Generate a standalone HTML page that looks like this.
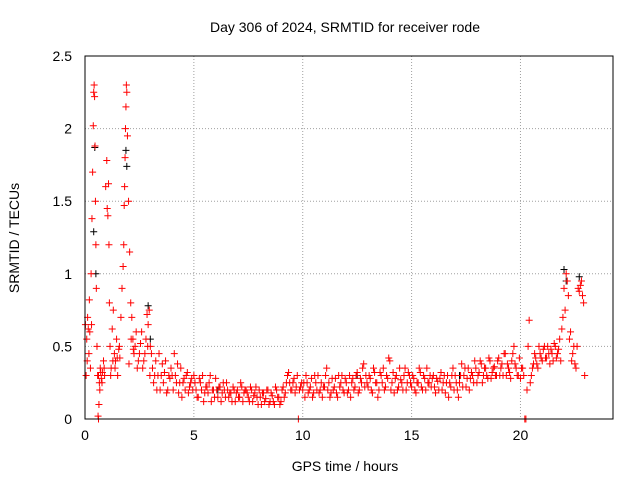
<!DOCTYPE html>
<html><head><meta charset="utf-8"><style>
body{margin:0;background:#fff;}
svg{display:block;font-family:"Liberation Sans",sans-serif;}
</style></head><body>
<svg id="chart" width="640" height="480">
<text x="345" y="32" text-anchor="middle" font-size="14">Day 306 of 2024, SRMTID for receiver rode</text>
<text x="345" y="471" text-anchor="middle" font-size="14">GPS time / hours</text>
<text transform="translate(19,238) rotate(-90)" text-anchor="middle" font-size="14">SRMTID / TECUs</text>
<g id="grid"></g><g id="ticks"></g><g id="black"></g><g id="red"></g>
<rect x="85" y="56" width="528" height="363" fill="none" stroke="#000"/>
</svg>
<script>
const xTicks=[0,5,10,15,20];
const yTicks=[0,0.5,1,1.5,2,2.5];
const yTickLabels=["0","0.5","1","1.5","2","2.5"];
// early segment (0-3 h): explicit times and values
const redTA=[0.02,0.05,0.08,0.1,0.12,0.15,0.18,0.2,0.22,0.25,
0.28,0.3,0.32,0.35,0.38,0.4,0.42,0.44,0.46,0.48,
0.5,0.52,0.55,0.58,0.6,0.62,0.64,0.66,0.7,0.75,
0.8,0.85,0.9,0.95,1.0,1.02,1.05,1.08,1.1,1.12,
1.15,1.2,1.25,1.3,1.35,1.4,1.45,1.5,1.55,1.6,
1.65,1.7,1.75,1.78,1.8,1.82,1.84,1.86,1.88,1.9,
1.92,1.95,2.0,2.05,2.1,2.15,2.2,2.25,2.3,2.4,
2.5,2.6,2.7,2.8,2.85,2.9,2.95,
0.62,0.68,0.72,0.78,0.88,1.18,1.28,1.38,1.48,1.58,
2.02,2.12,2.22,2.35,2.45,2.55,2.65,2.75,2.88,2.98];
const redVA=[0.65,0.3,0.55,0.4,0.7,0.62,0.45,0.82,0.6,0.35,
1.0,0.65,1.38,1.7,2.02,2.25,2.3,2.22,1.88,1.5,
1.2,0.9,0.5,0.3,0.02,0.0,0.1,0.25,0.35,0.28,
0.32,0.4,0.3,1.6,1.78,1.45,1.4,1.62,1.2,0.8,
0.5,0.35,0.62,0.75,0.45,0.4,0.55,0.3,0.48,0.42,
0.7,0.9,1.05,1.2,1.47,1.6,1.8,2.0,2.15,2.3,
2.25,1.95,1.5,1.15,0.8,0.7,0.55,0.45,0.5,0.35,
0.45,0.6,0.4,0.55,0.72,0.65,0.75,
0.3,0.2,0.32,0.25,0.35,0.3,0.4,0.35,0.42,0.5,
0.38,0.55,0.48,0.6,0.4,0.52,0.35,0.45,0.5,0.3];
// hourly rows from 3 h to 22 h, 10 samples per hour (index i -> hour + i/10)
const hoursB=[3,4,5,6,7,8,9,10,11,12,13,14,15,16,17,18,19,20,21,22];
const redVB=[
[0.5,0.35,0.3,0.2,0.45,0.3,0.25,0.4,0.2,0.28],
[0.3,0.45,0.25,0.18,0.35,0.25,0.2,0.32,0.22,0.28],
[0.3,0.2,0.15,0.25,0.3,0.18,0.22,0.25,0.12,0.2],
[0.28,0.15,0.22,0.18,0.2,0.25,0.15,0.18,0.22,0.12],
[0.2,0.15,0.22,0.18,0.2,0.15,0.22,0.12,0.18,0.15],
[0.2,0.1,0.18,0.14,0.2,0.12,0.16,0.1,0.2,0.15],
[0.12,0.22,0.18,0.3,0.25,0.2,0.28,0.22,0.0,0.22],
[0.2,0.15,0.25,0.2,0.28,0.18,0.25,0.3,0.2,0.15],
[0.22,0.35,0.25,0.18,0.2,0.28,0.15,0.22,0.3,0.18],
[0.25,0.2,0.15,0.28,0.22,0.32,0.2,0.25,0.38,0.3],
[0.22,0.28,0.18,0.32,0.25,0.2,0.3,0.35,0.22,0.28],
[0.4,0.25,0.18,0.3,0.22,0.27,0.2,0.35,0.25,0.3],
[0.22,0.28,0.18,0.25,0.32,0.2,0.28,0.35,0.25,0.22],
[0.3,0.18,0.26,0.28,0.2,0.3,0.25,0.15,0.22,0.35],
[0.3,0.2,0.25,0.38,0.3,0.22,0.35,0.28,0.3,0.4],
[0.25,0.32,0.38,0.3,0.35,0.28,0.4,0.32,0.36,0.3],
[0.42,0.35,0.3,0.45,0.38,0.32,0.4,0.5,0.35,0.3],
[0.28,0.35,0.0,0.2,0.68,0.3,0.38,0.42,0.35,0.45],
[0.4,0.5,0.42,0.45,0.48,0.4,0.5,0.45,0.55,0.62],
[0.9,1.0,0.85,0.6,0.45,0.38,0.5,0.88,0.95,0.8]];
// second red sample per tenth (offset +0.05 h)
const redVB2=[
[0.45,0.25,0.4,0.3,0.2,0.38,0.32,0.18,0.3,0.35],
[0.2,0.3,0.38,0.25,0.15,0.28,0.3,0.18,0.25,0.2],
[0.25,0.15,0.28,0.2,0.12,0.22,0.18,0.3,0.2,0.15],
[0.2,0.22,0.12,0.25,0.15,0.2,0.18,0.12,0.2,0.18],
[0.15,0.25,0.12,0.2,0.18,0.12,0.2,0.16,0.22,0.1],
[0.15,0.18,0.12,0.2,0.1,0.18,0.12,0.22,0.15,0.1],
[0.2,0.15,0.25,0.32,0.2,0.25,0.18,0.3,0.2,0.25],
[0.25,0.3,0.18,0.22,0.15,0.3,0.2,0.18,0.25,0.22],
[0.3,0.2,0.15,0.28,0.22,0.18,0.3,0.25,0.2,0.28],
[0.18,0.3,0.25,0.2,0.3,0.18,0.28,0.35,0.22,0.25],
[0.3,0.2,0.35,0.25,0.15,0.32,0.25,0.2,0.3,0.42],
[0.2,0.32,0.28,0.2,0.35,0.25,0.3,0.2,0.32,0.25],
[0.3,0.2,0.25,0.35,0.22,0.3,0.2,0.25,0.3,0.28],
[0.22,0.28,0.2,0.32,0.25,0.18,0.3,0.25,0.3,0.2],
[0.25,0.15,0.3,0.22,0.35,0.28,0.2,0.32,0.25,0.35],
[0.3,0.4,0.25,0.35,0.3,0.42,0.28,0.35,0.3,0.4],
[0.3,0.38,0.45,0.3,0.35,0.28,0.45,0.38,0.3,0.42],
[0.35,0.3,0.0,0.5,0.25,0.35,0.45,0.38,0.5,0.42],
[0.48,0.42,0.5,0.38,0.45,0.52,0.42,0.48,0.4,0.7],
[0.75,0.95,0.55,0.4,0.5,0.35,0.9,0.92,0.85,0.3]];
const blackT=[0.4,0.45,0.5,1.88,1.92,2.9,3.0,22.0,22.1,22.7,12.5,6.1,17.2];
const blackV=[1.29,1.87,1.0,1.85,1.74,0.78,0.55,1.03,0.95,0.98,0.3,0.2,0.3];
const NS="http://www.w3.org/2000/svg";
const X=v=>85+v*(528/24.25), Y=v=>419-v*(363/2.5);
const grid=document.getElementById('grid'),ticks=document.getElementById('ticks');
function mk(tag,attrs,parent){const e=document.createElementNS(NS,tag);for(const k in attrs)e.setAttribute(k,attrs[k]);parent.appendChild(e);return e;}
xTicks.forEach(t=>{
  const g=mk('line',{x1:X(t),x2:X(t),y1:56,y2:419,stroke:'#a0a0a0','stroke-dasharray':'1,2'},grid);
  
  
  const l=mk('text',{x:X(t),y:440,'text-anchor':'middle','font-size':14},ticks);l.textContent=t;
  
  
});
yTicks.forEach((t,i)=>{
  const g=mk('line',{x1:85,x2:613,y1:Y(t),y2:Y(t),stroke:'#a0a0a0','stroke-dasharray':'1,2'},grid);
  
  
  const l=mk('text',{x:72,y:Y(t)+5,'text-anchor':'end','font-size':14},ticks);l.textContent=yTickLabels[i];
  
  
});
function plus(x,y,c,parent,name){
  const p=mk('path',{d:`M${x-3.5},${y}h7M${x},${y-3.5}v7`,stroke:c,'stroke-width':1,fill:'none'},parent);
  
  
}
const blackG=document.getElementById('black'),redG=document.getElementById('red');
blackT.forEach((t,i)=>plus(X(t),Y(blackV[i]),'#000',blackG,'black-point'));
redTA.forEach((t,i)=>plus(X(t),Y(redVA[i]),'#ff0000',redG,'red-point'));
hoursB.forEach((h,r)=>{
  redVB[r].forEach((v,i)=>plus(X(h+i/10),Y(v),'#ff0000',redG,'red-point'));
  redVB2[r].forEach((v,i)=>plus(X(h+i/10+0.05),Y(v),'#ff0000',redG,'red-point'));
});
</script>
</body></html>
